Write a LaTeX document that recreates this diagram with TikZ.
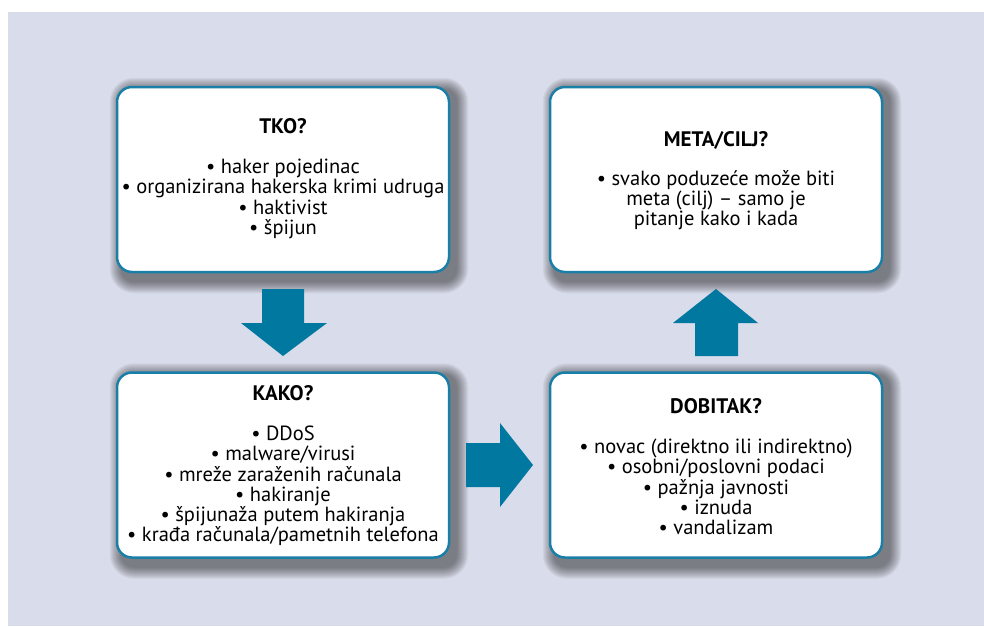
\documentclass[tikz,border=0pt]{standalone}
\usepackage{fontspec}
\setmainfont{PT Sans}
\usetikzlibrary{calc,backgrounds}
\definecolor{bg}{HTML}{D9DCEA}
\definecolor{frame}{HTML}{1A7FA6}
\definecolor{arr}{HTML}{00789F}
\begin{document}
\begin{tikzpicture}[x=1pt,y=-1pt,
  box/.style={draw=frame,line width=2.5pt,fill=white,rounded corners=15pt,
    minimum width=332pt,minimum height=185pt,inner sep=0pt},
  ttl/.style={font=\bfseries\fontsize{21}{23}\selectfont,inner sep=0pt},
  items/.style={font=\fontsize{20.5}{20.2}\selectfont,align=center,inner sep=0pt},
  blockarrow/.style={fill=arr,draw=none}]
\useasboundingbox (0,0) rectangle (984,626);
\node[box] (tko) at (283,179.5) {};
\node[box] (meta) at (716,179.5) {};
\node[box] (kako) at (283,465) {};
\node[box] (dob) at (716,465) {};
\begin{scope}[on background layer]
\fill[bg] (8,12) rectangle (984,626);
\foreach \n in {tko,meta,kako,dob}{
  \foreach \i in {1,...,12}{
    \fill[black,opacity=0.045,rounded corners=(12+\i)*1pt]
      ($(\n.north west)+(6-\i,4-\i)$) rectangle ($(\n.south east)+(6+\i,8+\i)$);
  }
}
\end{scope}
\node[ttl] (tkot) at (283,126) {TKO?};
\node[items] (tkoi) at (283,199) {• haker pojedinac\\• organizirana hakerska krimi udruga\\• haktivist\\• špijun};
\node[ttl] (metat) at (716,140) {META/CILJ?};
\node[items] (metai) at (716,200) {• svako poduzeće može biti\\meta (cilj) – samo je\\pitanje kako i kada};
\node[ttl] (kakot) at (283,393) {KAKO?};
\node[items] (kakoi) at (283,486) {• DDoS\\• malware/virusi\\• mreže zaraženih računala\\• hakiranje\\• špijunaža putem hakiranja\\• krađa računala/pametnih telefona};
\node[ttl] (dobt) at (716,406) {DOBITAK?};
\node[items] (dobi) at (716,487) {• novac (direktno ili indirektno)\\• osobni/poslovni podaci\\• pažnja javnosti\\• iznuda\\• vandalizam};
\fill[blockarrow] (262,289) -- (304,289) -- (304,323) -- (327,323) -- (283,356) -- (241,323) -- (262,323) -- cycle;
\fill[blockarrow] (466,443) -- (500,443) -- (500,423) -- (533,465) -- (500,507) -- (500,487) -- (466,487) -- cycle;
\fill[blockarrow] (716,289) -- (758,323) -- (738,323) -- (738,356) -- (695,356) -- (695,323) -- (673,323) -- cycle;
\end{tikzpicture}
\end{document}
